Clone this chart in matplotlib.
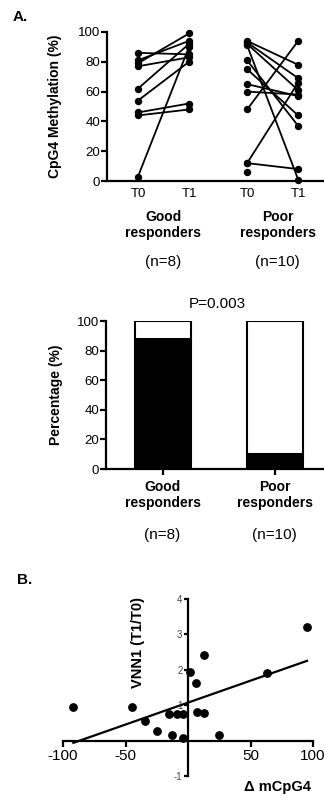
import numpy as np
import matplotlib
matplotlib.use("Agg")
import matplotlib.pyplot as plt

plt.rcParams['font.family'] = ['Liberation Sans', 'DejaVu Sans']

# ---------------- data ----------------
time_labels = ["T0", "T1"]
group_labels = ["Good\nresponders", "Poor\nresponders"]
n_labels = ["(n=8)", "(n=10)"]

good_t0 = [86, 81, 79, 77, 62, 54, 46, 44, 3]
good_t1 = [85, 94, 99, 83, 92, 80, 52, 48, 90]

poor_t0 = [94, 93, 92, 91, 81, 75, 65, 60, 48, 12, 12, 6]
poor_t1 = [78, 69, 61, 1, 37, 44, 57, 58, 94, 66, 8, np.nan]

resp_pct = [88, 10]          # % of patients (black part)
p_value_text = "P=0.003"

delta_mcpg4 = [-91.7, -45, -34.1, -24.8, -14.9, -12.8, -8.5, -4, -4,
               1.6, 6.1, 6.9, 12.8, 13.1, 24.8, 63, 95.2]
vnn1_ratio = [0.94, 0.94, 0.55, 0.26, 0.75, 0.16, 0.75, 0.75, 0.06,
              1.94, 1.63, 0.82, 0.77, 2.43, 0.16, 1.92, 3.21]

# ---------------- figure ----------------
W, H = 324, 806
fig = plt.figure(figsize=(W / 100, H / 100), dpi=100)

def rect(l, t, r, b):
    return [l / W, 1 - b / H, (r - l) / W, (b - t) / H]

SP = 1.6
TICK_FS = 9.5
LAB_FS = 10
SMALL_FS = 11

# ---------- panel A top: paired lines ----------
ax1 = fig.add_axes(rect(107, 32, 324, 181))
pos = [0, 1, 2.14, 3.14]
for a, b in zip(good_t0, good_t1):
    ax1.plot([pos[0], pos[1]], [a, b], color='black', lw=1.3,
             marker='o', ms=4.3, clip_on=False, zorder=3)
for a, b in zip(poor_t0, poor_t1):
    ax1.plot([pos[2], pos[3]], [a, b], color='black', lw=1.3,
             marker='o', ms=4.3, clip_on=False, zorder=3)
ax1.set_ylim(0, 100)
ax1.set_xlim(-31 / 51, 186 / 51)
ax1.set_yticks([0, 20, 40, 60, 80, 100])
ax1.set_xticks(pos)
ax1.set_xticklabels(time_labels * 2, fontsize=TICK_FS)
ax1.tick_params(axis='x', length=0, pad=5)
ax1.tick_params(axis='y', labelsize=TICK_FS, width=SP, length=4, pad=1)
for s in ['top', 'right']:
    ax1.spines[s].set_visible(False)
for s in ['left', 'bottom']:
    ax1.spines[s].set_linewidth(SP)
ax1.set_ylabel("CpG4 Methylation (%)", fontsize=LAB_FS, fontweight='bold',
               labelpad=3)
ax1.yaxis.set_label_coords(-45 / 217, 0.5)

for gx, gl, nl in zip([(pos[0] + pos[1]) / 2, (pos[2] + pos[3]) / 2 + 0.1],
                      group_labels, n_labels):
    ax1.annotate(gl, xy=(gx, H - 225), xycoords=('data', 'figure pixels'),
                 ha='center', va='center', fontsize=LAB_FS,
                 fontweight='bold', linespacing=1.15)
    ax1.annotate(nl, xy=(gx, H - 262), xycoords=('data', 'figure pixels'),
                 ha='center', va='center', fontsize=SMALL_FS)

# ---------- panel A bottom: stacked bars ----------
ax2 = fig.add_axes(rect(106, 321, 324, 469))
bx = [0, 1]
white = [100 - v for v in resp_pct]
ax2.bar(bx, resp_pct, width=0.5, color='black', edgecolor='black', lw=1.5)
ax2.bar(bx, white, bottom=resp_pct, width=0.5, color='white',
        edgecolor='black', lw=1.5)
ax2.set_ylim(0, 100)
ax2.set_xlim(-56.5 / 112, 161.5 / 112)
ax2.set_yticks([0, 20, 40, 60, 80, 100])
ax2.set_xticks(bx)
ax2.set_xticklabels(group_labels, fontsize=LAB_FS, fontweight='bold',
                    linespacing=1.15)
ax2.tick_params(axis='x', width=SP, length=4, pad=4)
ax2.tick_params(axis='y', labelsize=TICK_FS, width=SP, length=4, pad=1)
for s in ['top', 'right']:
    ax2.spines[s].set_visible(False)
for s in ['left', 'bottom']:
    ax2.spines[s].set_linewidth(SP)
ax2.set_ylabel("Percentage (%)", fontsize=LAB_FS, fontweight='bold')
ax2.yaxis.set_label_coords(-43 / 218, 0.5)
ax2.annotate(p_value_text, xy=(217, H - 304), xycoords='figure pixels',
             ha='center', va='center', fontsize=SMALL_FS)
for gx, nl in zip(bx, n_labels):
    ax2.annotate(nl, xy=(gx, H - 535), xycoords=('data', 'figure pixels'),
                 ha='center', va='center', fontsize=SMALL_FS)

fig.text(13 / W, 1 - 17 / H, "A.", fontsize=11, fontweight='bold',
         ha='left', va='center')
fig.text(17 / W, 1 - 580 / H, "B.", fontsize=11, fontweight='bold',
         ha='left', va='center')

# ---------- panel B: scatter + regression ----------
ax3 = fig.add_axes(rect(63, 599, 313, 776))
ax3.scatter(delta_mcpg4, vnn1_ratio, s=28, color='black', zorder=3,
            clip_on=False)
slope, intercept = np.polyfit(delta_mcpg4, vnn1_ratio, 1)
xl = np.array([min(delta_mcpg4), max(delta_mcpg4)])
ax3.plot(xl, slope * xl + intercept, color='black', lw=1.6)
ax3.set_xlim(-100, 100)
ax3.set_ylim(-1, 4)
for s in ['top', 'right']:
    ax3.spines[s].set_visible(False)
for s in ['left', 'bottom']:
    ax3.spines[s].set_position(('data', 0))
    ax3.spines[s].set_linewidth(SP)
ax3.set_xticks([-100, -50, 50, 100])
ax3.set_xticklabels(["-100", "-50", "50", "100"], fontsize=SMALL_FS)
ax3.set_yticks([-1, 1, 2, 3, 4])
ax3.set_yticklabels(["-1", "1", "2", "3", "4"], fontsize=7, color='#444444')
ax3.tick_params(axis='x', width=SP, length=4, pad=2)
ax3.tick_params(axis='y', width=SP, length=3, pad=1)
fig.text(138 / W, 1 - 642 / H, "VNN1 (T1/T0)", rotation=90, fontsize=10.5,
         fontweight='bold', ha='center', va='center')
fig.text(278 / W, 1 - 787 / H, "\u0394 mCpG4", fontsize=10.5,
         fontweight='bold', ha='center', va='center')

fig.savefig("out.png", dpi=100)
